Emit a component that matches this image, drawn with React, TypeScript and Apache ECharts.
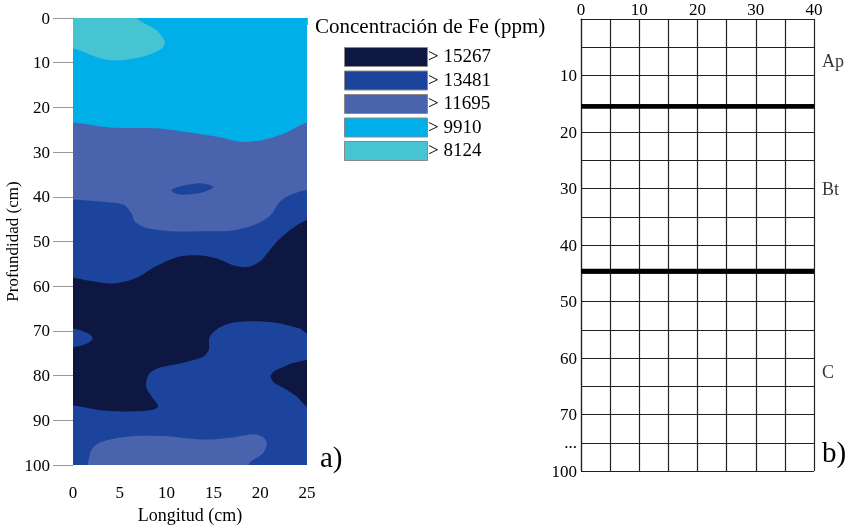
import React, { useEffect, useRef } from 'react';
import * as echarts from 'echarts';

// ---------- data ----------
const legendTitle = 'Concentración de Fe (ppm)';
const legendLabels = ['> 15267', '> 13481', '> 11695', '> 9910', '> 8124'];
const classColors = ['#0e1741', '#1c449c', '#4a63ad', '#00aee8', '#47c4d2'];

// contour region boundaries, [longitud cm, profundidad cm]; painted in order
const base9910: number[][] = [[-3, -3], [28, -3], [28, 103], [-3, 103]];
const blob8124: number[][] = [
  [-3, -3], [6.6, -3], [6.8, 0], [8.9, 2.7], [9.8, 5.3], [9.5, 6.8], [7.5, 8.6],
  [4.6, 9.5], [2.9, 9.0], [0, 6.8], [-3, 6.5],
];
const region11695: number[][] = [
  [-3, 23.2], [0, 23.4], [3.9, 24.5], [9.2, 24.7], [12.4, 25.6], [15.7, 26.7], [17.8, 27.7],
  [20, 27.4], [21.8, 26.4], [23.2, 25.2], [25, 23.4], [28, 22.5], [28, 103], [-3, 103],
];
const region13481: number[][] = [
  [-3, 40.4], [0, 40.6], [3.2, 41.1], [5.4, 41.8], [6.25, 43.7], [6.6, 45.5], [7.9, 47.0],
  [10.4, 47.7], [13.9, 47.7], [16.8, 47.6], [19.3, 46.3], [21.1, 44.1], [22.1, 41.1],
  [23.2, 39.6], [25, 38.5], [28, 38.0], [28, 103], [-3, 103],
];
const blob13481Small: number[][] = [
  [10.5, 38.5], [11.6, 37.6], [13.2, 37.0], [14.3, 37.2], [15.0, 37.8], [14.0, 38.9],
  [12.2, 39.5], [11.0, 39.3],
];
const region15267: number[][] = [
  [-3, 58.0], [0, 58.1], [1.8, 58.8], [4.3, 59.4], [6.8, 58.1], [8.9, 55.5], [11.1, 53.5],
  [13.2, 53.1], [15.4, 53.8], [17.1, 55.3], [18.6, 55.7], [20, 54.4], [21.8, 50.0],
  [23.2, 47.4], [25, 45.2], [28, 44.0], [28, 71.0], [25, 70.6], [24.3, 69.5], [21.1, 68.0],
  [17.5, 68.0], [15.7, 69.2], [14.6, 71.4], [14.5, 74.3], [13.9, 75.8], [11.8, 77.1],
  [9.3, 78.2], [8.2, 79.5], [7.8, 81.7], [7.9, 83.0], [8.4, 84.7], [9.1, 86.9],
  [8.6, 87.6], [6.8, 88.0], [3.2, 87.8], [0, 86.7], [-3, 86.5],
];
const blob15267Right: number[][] = [
  [28, 76.0], [25, 76.5], [23.5, 77.2], [22.5, 78.0], [21.5, 79.0], [21.1, 80.2],
  [21.5, 81.6], [22.5, 82.8], [23.9, 84.7], [25, 86.9], [28, 88.0],
];
const blob13481Left: number[][] = [
  [-3, 69.3], [0, 69.5], [1.0, 70.0], [1.8, 70.8], [2.1, 71.7], [1.6, 72.7], [0.8, 73.3],
  [0, 73.6], [-3, 73.8],
];
const blob11695Bottom: number[][] = [
  [1.8, 103], [1.8, 97.6], [2.5, 95.4], [4.3, 94.1], [6.8, 93.5], [10.4, 93.6], [13.9, 94.3],
  [16.8, 93.9], [19.3, 93.1], [20.4, 93.9], [20.7, 95.4], [20.2, 97.6], [18.9, 99.4], [18.2, 103],
];
// [points, class index into classColors]
const regions: [number[][], number][] = [
  [base9910, 3], [blob8124, 4], [region11695, 2], [region13481, 1], [blob13481Small, 1],
  [region15267, 0], [blob15267Right, 0], [blob13481Left, 1], [blob11695Bottom, 2],
];

// right panel: profile grid
const profileTopLabels = [0, 10, 20, 30, 40];
const profileDepthValues = [10, 20, 30, 40, 50, 60, 70, 75, 80];
const profileDepthTexts = ['10', '20', '30', '40', '50', '60', '70', '...', '100'];
const horizonBoundaries = [15.5, 44.6];
const horizonNames = ['Ap', 'Bt', 'C'];
const horizonLabelDepths = [7.5, 30, 62.5];

const SERIF = '"Liberation Serif", "Times New Roman", serif';

export default function App() {
  const ref = useRef<HTMLDivElement>(null);
  useEffect(() => {
    document.body.style.margin = '0';
    const chart = echarts.init(ref.current!, undefined, { renderer: 'svg' });

    const regionSeries = regions.map(([pts, ci]) => ({
      type: 'custom',
      xAxisIndex: 0,
      yAxisIndex: 0,
      clip: true,
      silent: true,
      data: [[0, 0]],
      renderItem: (_p: any, api: any) => ({
        type: 'polygon',
        shape: { points: pts.map((p) => api.coord(p)), smooth: 0.3 },
        style: { fill: classColors[ci], stroke: null },
      }),
    }));

    const boundarySeries = horizonBoundaries.map((d) => ({
      type: 'line',
      xAxisIndex: 1,
      yAxisIndex: 1,
      symbol: 'none',
      silent: true,
      data: [[0, d], [40, d]],
      lineStyle: { color: '#000', width: 4.5 },
      z: 5,
    }));

    const legendGraphics: any[] = [];
    legendLabels.forEach((lab, i) => {
      const y = 47 + i * 23.5;
      legendGraphics.push({
        type: 'rect',
        left: 344,
        top: y,
        shape: { width: 83, height: 19 },
        style: { fill: classColors[i], stroke: '#8a8a8a', lineWidth: 1 },
      });
      legendGraphics.push({
        type: 'text',
        left: 428,
        top: y - 1,
        style: { text: lab, font: `19px ${SERIF}`, fill: '#000' },
      });
    });

    const labelStyle = { fontFamily: SERIF, fontSize: 17, color: '#000' };

    chart.setOption({
      animation: false,
      grid: [
        { left: 73, top: 18, width: 234, height: 451 },
        { left: 581, top: 19, width: 233, height: 452 },
      ],
      xAxis: [
        {
          gridIndex: 0,
          type: 'value',
          min: 0,
          max: 25,
          interval: 5,
          axisLine: { show: true, lineStyle: { color: '#999' } },
          axisTick: { show: true, length: 7, lineStyle: { color: '#999' } },
          axisLabel: { ...labelStyle, margin: 19 },
          splitLine: { show: false },
          name: 'Longitud (cm)',
          nameLocation: 'middle',
          nameGap: 41,
          nameTextStyle: { fontFamily: SERIF, fontSize: 18, color: '#000' },
        },
        {
          gridIndex: 1,
          type: 'value',
          position: 'top',
          min: 0,
          max: 40,
          interval: 5,
          axisLine: { show: true, lineStyle: { color: '#222', width: 1.2 } },
          axisTick: { show: false },
          axisLabel: {
            ...labelStyle,
            margin: 1,
            formatter: (v: number) => (profileTopLabels.includes(v) ? String(v) : ''),
          },
          splitLine: { show: true, lineStyle: { color: '#222', width: 1.2 } },
        },
      ],
      yAxis: [
        {
          gridIndex: 0,
          type: 'value',
          inverse: true,
          min: 0,
          max: 100,
          interval: 10,
          axisLine: { show: true, lineStyle: { color: '#999' } },
          axisTick: { show: true, length: 20, lineStyle: { color: '#999' } },
          axisLabel: { ...labelStyle, margin: 23 },
          splitLine: { show: false },
          name: 'Profundidad (cm)',
          nameLocation: 'middle',
          nameGap: 50,
          nameTextStyle: { fontFamily: SERIF, fontSize: 17, color: '#000' },
        },
        {
          gridIndex: 1,
          type: 'value',
          inverse: true,
          min: 0,
          max: 80,
          interval: 5,
          axisLine: { show: true, lineStyle: { color: '#222', width: 1.2 } },
          axisTick: { show: false },
          axisLabel: {
            ...labelStyle,
            margin: 4,
            formatter: (v: number) => {
              const i = profileDepthValues.indexOf(v);
              return i >= 0 ? profileDepthTexts[i] : '';
            },
          },
          splitLine: { show: true, lineStyle: { color: '#222', width: 1.2 } },
        },
      ],
      series: [
        ...regionSeries,
        ...boundarySeries,
        {
          type: 'scatter',
          xAxisIndex: 1,
          yAxisIndex: 1,
          symbolSize: 0,
          silent: true,
          data: horizonNames.map((n, i) => ({ name: n, value: [40, horizonLabelDepths[i]] })),
          label: {
            show: true,
            position: 'right',
            distance: 8,
            formatter: (p: any) => p.name,
            fontFamily: SERIF,
            fontSize: 18,
            color: '#000',
          },
        },
      ],
      graphic: [
        {
          type: 'text',
          left: 315,
          top: 15,
          style: { text: legendTitle, font: `21px ${SERIF}`, fill: '#000' },
        },
        ...legendGraphics,
        {
          type: 'text',
          left: 320,
          top: 442,
          style: { text: 'a)', font: `29px ${SERIF}`, fill: '#000' },
        },
        {
          type: 'text',
          left: 822,
          top: 437,
          style: { text: 'b)', font: `29px ${SERIF}`, fill: '#000' },
        },
      ],
    });
    return () => chart.dispose();
  }, []);
  return (
    <div
      ref={ref}
      style={{ position: 'fixed', left: 0, top: 0, width: 850, height: 529 }}
    />
  );
}
